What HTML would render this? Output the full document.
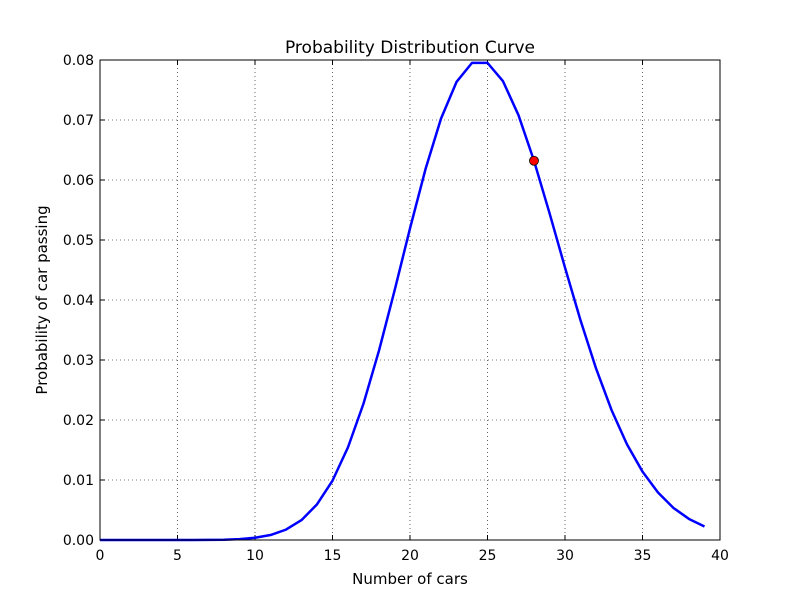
<!DOCTYPE html>
<html><head><meta charset="utf-8"><style>
body{margin:0;background:#fff;}
svg{display:block;font-family:"DejaVu Sans","Liberation Sans",sans-serif;}
</style></head><body>
<svg id="chart" width="800" height="600">
<rect width="800" height="600" fill="#fff"/>
<g id="grid"></g>
<g id="ticks"></g>
<path id="curve" fill="none" stroke="#0000ff" stroke-width="2.5" stroke-linejoin="round"/>
<circle id="marker" r="4.5" fill="#ff0000" stroke="#000" stroke-width="0.8"/>
<rect x="100" y="60" width="620" height="480" fill="none" stroke="#000" stroke-width="1"/>
<text x="410" y="53" text-anchor="middle" font-size="17">Probability Distribution Curve</text>
<text x="410" y="584" text-anchor="middle" font-size="15">Number of cars</text>
<text transform="translate(47,300) rotate(-90)" text-anchor="middle" font-size="15">Probability of car passing</text>
</svg>
<script>
const xValues=[0,1,2,3,4,5,6,7,8,9,10,11,12,13,14,15,16,17,18,19,20,21,22,23,24,25,26,27,28,29,30,31,32,33,34,35,36,37,38,39];
const probValues=[0,0,0,0,0,0,0,0.00002,0.00005,0.00015,0.00037,0.00083,0.00173,0.00332,0.00594,0.00989,0.01546,0.02273,0.03157,0.04154,0.05192,0.06181,0.07023,0.07634,0.07952,0.07952,0.07646,0.07080,0.06321,0.05449,0.04541,0.03662,0.02861,0.02167,0.01594,0.01139,0.00791,0.00534,0.00351,0.00225];
const highlightX=[28];
const highlightY=[0.06321];
const xTicks=[0,5,10,15,20,25,30,35,40];
const yTicks=[0,0.01,0.02,0.03,0.04,0.05,0.06,0.07,0.08];
const yTickLabels=["0.00","0.01","0.02","0.03","0.04","0.05","0.06","0.07","0.08"];
const L=100,R=720,T=60,B=540,xmin=0,xmax=40,ymin=0,ymax=0.08;
const sx=v=>L+(v-xmin)/(xmax-xmin)*(R-L);
const sy=v=>B-(v-ymin)/(ymax-ymin)*(B-T);
const NS="http://www.w3.org/2000/svg";
const grid=document.getElementById('grid'),ticks=document.getElementById('ticks');
function mk(tag,attrs,parent){const e=document.createElementNS(NS,tag);for(const k in attrs)e.setAttribute(k,attrs[k]);parent.appendChild(e);return e;}
xTicks.forEach(v=>{
  const x=sx(v);
  const g=mk('line',{x1:x,x2:x,y1:T,y2:B,stroke:'#000','stroke-width':0.6,'stroke-dasharray':'1,3'},grid);
  
  
  const t1=mk('line',{x1:x,x2:x,y1:B,y2:B-5,stroke:'#000'},ticks);
  
  
  const t2=mk('line',{x1:x,x2:x,y1:T,y2:T+5,stroke:'#000'},ticks);
  
  
  const lb=mk('text',{x:x,y:B+20,'text-anchor':'middle','font-size':14},ticks);
  lb.textContent=v;
  
  
});
yTicks.forEach((v,i)=>{
  const y=sy(v);
  const g=mk('line',{x1:L,x2:R,y1:y,y2:y,stroke:'#000','stroke-width':0.6,'stroke-dasharray':'1,3'},grid);
  
  
  const t1=mk('line',{x1:L,x2:L+5,y1:y,y2:y,stroke:'#000'},ticks);
  
  
  const t2=mk('line',{x1:R,x2:R-5,y1:y,y2:y,stroke:'#000'},ticks);
  
  
  const lb=mk('text',{x:L-6,y:y+5,'text-anchor':'end','font-size':14},ticks);
  lb.textContent=yTickLabels[i];
  
  
});
document.getElementById('curve').setAttribute('d',xValues.map((v,i)=>(i?'L':'M')+sx(v)+','+sy(probValues[i])).join(''));
const m=document.getElementById('marker');
m.setAttribute('cx',sx(highlightX[0]));m.setAttribute('cy',sy(highlightY[0]));
</script>
</body></html>
